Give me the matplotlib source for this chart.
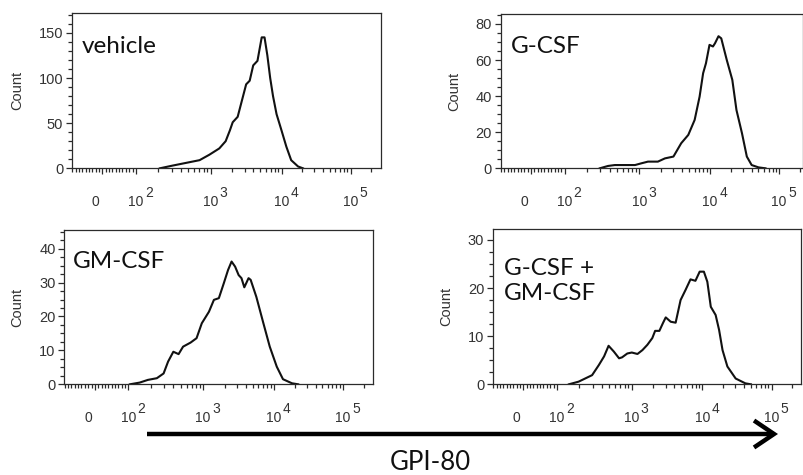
import numpy as np
import matplotlib
matplotlib.use("Agg")
import matplotlib.pyplot as plt
from matplotlib.ticker import FixedLocator, NullFormatter
from matplotlib.transforms import blended_transform_factory, offset_copy
from matplotlib.patches import FancyArrowPatch

# ---------------- data (x as log10 of GPI-80 intensity, y = count) ----------------
vehicle_logx = [2.32, 2.49, 2.67, 2.85, 2.98, 3.12, 3.21, 3.27, 3.31, 3.38, 3.45,
                3.50, 3.55, 3.60, 3.66, 3.72, 3.76, 3.80, 3.84, 3.88, 3.93, 4.00,
                4.07, 4.14, 4.24, 4.31]
vehicle_count = [0, 3, 6, 9, 15, 22, 30, 42, 51, 57, 78,
                 93, 97, 114, 119, 145, 145, 125, 100, 80, 60, 42,
                 24, 9, 2, 0]

gcsf_logx = [2.47, 2.58, 2.67, 2.94, 3.03, 3.12, 3.26, 3.36, 3.48, 3.59, 3.69,
             3.78, 3.85, 3.90, 3.94, 3.99, 4.04, 4.07, 4.12, 4.16, 4.24, 4.32,
             4.38, 4.46, 4.53, 4.60, 4.70, 4.80]
gcsf_count = [0, 1.3, 1.8, 1.8, 2.8, 3.7, 3.7, 5.5, 6.5, 13.9, 18.5,
              26.8, 39.7, 52.7, 58.2, 68.4, 67.5, 69.3, 73.2, 72, 60, 49,
              32.3, 19.4, 6.5, 1.8, 0.5, 0]

gmcsf_logx = [2.02, 2.15, 2.26, 2.38, 2.47, 2.53, 2.60, 2.67, 2.73, 2.83, 2.91,
              2.98, 3.08, 3.15, 3.22, 3.29, 3.35, 3.40, 3.45, 3.50, 3.54, 3.58,
              3.64, 3.67, 3.75, 3.85, 3.94, 4.04, 4.13, 4.26, 4.35]
gmcsf_count = [0, 0.5, 1.3, 1.8, 3.2, 6.7, 9.6, 8.9, 11.1, 12.3, 13.6,
               18, 21.4, 24.9, 25.4, 29.8, 33.7, 36.2, 34.7, 32.2, 31.3, 28.6,
               31.3, 30.8, 25.8, 18, 11.1, 5.2, 1.5, 0.3, 0]

combo_logx = [2.16, 2.29, 2.47, 2.56, 2.63, 2.69, 2.76, 2.83, 2.87, 2.94, 3.00,
              3.08, 3.15, 3.22, 3.29, 3.33, 3.39, 3.44, 3.48, 3.55, 3.62, 3.69,
              3.76, 3.83, 3.90, 3.96, 4.02, 4.07, 4.12, 4.19, 4.24, 4.29, 4.36,
              4.48, 4.62, 4.70]
combo_count = [0, 0.55, 1.9, 4.0, 5.8, 8.0, 6.8, 5.4, 5.6, 6.4, 6.6,
               6.3, 7.1, 8.2, 9.6, 11.1, 11.1, 12.7, 13.9, 13.0, 12.8, 17.5,
               19.6, 21.8, 21.5, 23.4, 23.4, 21.3, 16.1, 14.4, 11.3, 7.1, 3.7,
               1.2, 0.2, 0]

titles = [["vehicle"], ["G-CSF"], ["GM-CSF"], ["G-CSF +", "GM-CSF"]]
y_major = [[0, 50, 100, 150], [0, 20, 40, 60, 80], [0, 10, 20, 30, 40], [0, 10, 20, 30]]
y_minor_step = [10, 5, 2.5, 2.5]
y_max = [172, 85.5, 45.5, 32.2]
x_major = [0, 100, 1000, 10000, 100000]
x_major_labels = ["0", "2", "3", "4", "5"]
x_axis_title = "GPI-80"

# ---------------- biexponential-like display scale ----------------
LIN0, LIN100 = 30.4, 63.9
DEC_LOG = np.array([2.0, 3.0, 4.0, 5.0])
DEC_POS = np.array([63.9, 138.8, 209.5, 278.6])
TOP_SLOPE = 69.1


def fwd(x):
    x = np.asarray(x, dtype=float)
    shape = x.shape
    x = np.atleast_1d(x).ravel()
    out = np.empty_like(x)
    lin = x <= 100
    out[lin] = LIN0 + (LIN100 - LIN0) * x[lin] / 100.0
    with np.errstate(invalid="ignore", divide="ignore"):
        lx = np.log10(np.where(lin, 100.0, x))
    p = np.interp(lx, DEC_LOG, DEC_POS)
    hi = lx > 5
    p[hi] = DEC_POS[-1] + (lx[hi] - 5) * TOP_SLOPE
    out[~lin] = p[~lin]
    return out.reshape(shape)


def inv(p):
    p = np.asarray(p, dtype=float)
    shape = p.shape
    p = np.atleast_1d(p).ravel()
    out = np.empty_like(p)
    lin = p <= LIN100
    out[lin] = (p[lin] - LIN0) / (LIN100 - LIN0) * 100.0
    lx = np.interp(p, DEC_POS, DEC_LOG)
    hi = p > DEC_POS[-1]
    lx[hi] = 5 + (p[hi] - DEC_POS[-1]) / TOP_SLOPE
    out[~lin] = 10 ** lx[~lin]
    return out.reshape(shape)


x_minor = ([v for v in range(-90, 100, 10) if v != 0] +
           [m * 10 ** e for e in range(2, 6) for m in range(2, 10)])
x_minor = [v for v in x_minor if v < 2.6e5]

# ---------------- figure ----------------
W, H = 804, 475
fig = plt.figure(figsize=(W / 100, H / 100), dpi=100)
plt.rcParams["font.family"] = ["Liberation Sans", "DejaVu Sans"]

# panel boxes in pixels: left, top, right, bottom
boxes = [(72, 13, 381, 168.3), (500.7, 14, 803.5, 168.3),
         (64.5, 230, 373, 384.3), (493, 229.3, 801, 384.3)]
ylabel_off = [54.5, 46.7, 47, 47]
title_pos = [(81.7, 53.3), (511, 52.7), (73.3, 268.3), (503.7, 275)]
title_line_gap = 25

data = [(vehicle_logx, vehicle_count), (gcsf_logx, gcsf_count),
        (gmcsf_logx, gmcsf_count), (combo_logx, combo_count)]
axcol = "#2b2b2b"
txtcol = "#333333"

for i, (l, t, r, b) in enumerate(boxes):
    wpx, hpx = r - l, b - t
    ax = fig.add_axes([l / W, 1 - b / H, wpx / W, hpx / H])
    ax.set_xscale("function", functions=(fwd, inv))
    ax.set_xlim(float(inv(0.0)), float(inv(wpx)))
    ax.set_ylim(0, y_max[i])
    lx, cnt = data[i]
    ax.plot(10 ** np.array(lx), cnt, color="#111111", lw=1.5, solid_joinstyle="round")

    ax.xaxis.set_major_locator(FixedLocator(x_major))
    ax.xaxis.set_minor_locator(FixedLocator(x_minor))
    ax.xaxis.set_major_formatter(NullFormatter())
    ax.xaxis.set_minor_formatter(NullFormatter())
    ax.yaxis.set_major_locator(FixedLocator(y_major[i]))
    ax.yaxis.set_minor_locator(FixedLocator(np.arange(0, y_max[i], y_minor_step[i])))
    ax.tick_params(axis="both", which="both", direction="out", color=axcol,
                   width=0.9, top=False, right=False)
    ax.tick_params(axis="x", which="major", length=4.6)
    ax.tick_params(axis="x", which="minor", length=2.8)
    ax.tick_params(axis="y", which="major", length=4.3, pad=2.0,
                   labelsize=10.5, labelcolor=txtcol)
    ax.tick_params(axis="y", which="minor", length=3.0)
    for s in ax.spines.values():
        s.set_color(axcol)
        s.set_linewidth(0.9)

    ax.set_ylabel("Count", fontsize=10.5, color=txtcol, va="center")
    ax.yaxis.set_label_coords(-ylabel_off[i] / wpx, 0.5)

    # x tick labels (FlowJo style: 0, 10^2 ... 10^5)
    base = blended_transform_factory(ax.transData, ax.transAxes)
    for v, lab in zip(x_major, x_major_labels):
        if lab == "0":
            ax.text(v, 0, "0", transform=offset_copy(base, fig=fig, x=-7, y=-37.2, units="dots"),
                    ha="center", va="baseline", fontsize=10, color=txtcol)
        else:
            ax.text(v, 0, "10", transform=offset_copy(base, fig=fig, x=7.5, y=-37.2, units="dots"),
                    ha="right", va="baseline", fontsize=10, color=txtcol)
            ax.text(v, 0, lab, transform=offset_copy(base, fig=fig, x=9, y=-28.5, units="dots"),
                    ha="left", va="baseline", fontsize=10, color=txtcol)

    tx, ty = title_pos[i]
    for k, line in enumerate(titles[i]):
        fig.text(tx / W, 1 - (ty + k * title_line_gap) / H, line, family=["Lato", "DejaVu Sans"],
                 fontsize=17.5, color="#111111", va="baseline", ha="left")

arrow = FancyArrowPatch((147 / W, 1 - 434 / H), (778 / W, 1 - 434 / H),
                        transform=fig.transFigure, arrowstyle="->,head_length=1.44,head_width=0.97",
                        mutation_scale=10, lw=3.2, color="black", shrinkA=0, shrinkB=0,
                        capstyle="butt", joinstyle="miter")
fig.add_artist(arrow)
fig.text(430 / W, 1 - 470 / H, x_axis_title, family=["Lato", "DejaVu Sans"], fontsize=18.5,
         color="#111111", ha="center", va="baseline")

fig.savefig("out.png", dpi=100)
